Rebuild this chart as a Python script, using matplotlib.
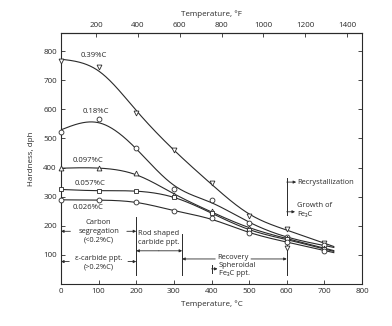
import numpy as np
import matplotlib
matplotlib.use("Agg")
import matplotlib.pyplot as plt

plt.rcParams['font.family'] = ['Open Sans', 'DejaVu Sans']

# Tempering temperature (deg C) and hardness (dph) for each carbon content
temps_c = [0, 100, 200, 300, 400, 500, 600, 700]
h_039 = [766, 745, 588, 460, 346, 235, 188, 140]
h_018 = [523, 565, 466, 326, 289, 209, 161, 133]
h_0097 = [397, 397, 380, 306, 249, 192, 157, 123]
h_0057 = [325, 319, 319, 300, 243, 184, 154, 120]
h_0026 = [289, 287, 283, 249, 226, 174, 145, 115]
stray_t = [600]
stray_h = [125]

series = [
    ("0.39%C", h_039, "v"),
    ("0.18%C", h_018, "o"),
    ("0.097%C", h_0097, "^"),
    ("0.057%C", h_0057, "s"),
    ("0.026%C", h_0026, "o"),
]
label_pos = {"0.39%C": (88, 784), "0.18%C": (94, 592), "0.097%C": (72, 424),
             "0.057%C": (77, 344), "0.026%C": (71, 262)}

f_ticks = [200, 400, 600, 800, 1000, 1200, 1400]
c_ticks = [0, 100, 200, 300, 400, 500, 600, 700, 800]
h_ticks = [100, 200, 300, 400, 500, 600, 700, 800]

INK = "#2a2a2a"
SMOOTHING = 4e4


def smooth_curve(x, y, xs, lam):
    """Cubic smoothing spline (Reinsch) through the readings, extended
    linearly a little past the last point."""
    x = np.asarray(x, float)
    y = np.asarray(y, float)
    n = len(x)
    h = np.diff(x)
    Q = np.zeros((n, n - 2))
    R = np.zeros((n - 2, n - 2))
    for i in range(1, n - 1):
        Q[i - 1, i - 1] = 1 / h[i - 1]
        Q[i, i - 1] = -1 / h[i - 1] - 1 / h[i]
        Q[i + 1, i - 1] = 1 / h[i]
        R[i - 1, i - 1] = (h[i - 1] + h[i]) / 3
        if i < n - 2:
            R[i - 1, i] = R[i, i - 1] = h[i] / 6
    K = Q @ np.linalg.solve(R, Q.T)
    g = np.linalg.solve(np.eye(n) + lam * K, y)
    gam = np.linalg.solve(R, Q.T @ g)
    M = np.concatenate([[0.0], gam, [0.0]])
    out = np.empty(len(xs))
    for j, xv in enumerate(xs):
        if xv >= x[-1]:
            k = n - 2
            slope = (g[k + 1] - g[k]) / h[k] + h[k] * (2 * M[k + 1] + M[k]) / 6
            out[j] = g[-1] + slope * (xv - x[-1])
            continue
        k = min(np.searchsorted(x, xv, side="right") - 1, n - 2)
        a = x[k + 1] - xv
        c = xv - x[k]
        out[j] = (M[k] * a**3 / (6 * h[k]) + M[k + 1] * c**3 / (6 * h[k])
                  + (g[k] / h[k] - M[k] * h[k] / 6) * a
                  + (g[k + 1] / h[k] - M[k + 1] * h[k] / 6) * c)
    return out


fig = plt.figure(figsize=(3.92, 3.26), dpi=100)
ax = fig.add_axes([61 / 392, 1 - 284 / 326, 301 / 392, 251 / 326])

xs = np.linspace(0, 725, 500)
for name, vals, mk in series:
    ax.plot(xs, smooth_curve(temps_c, vals, xs, SMOOTHING), color=INK, lw=0.8,
            zorder=3)
    ax.plot(temps_c, vals, linestyle="none", marker=mk, ms=3.5, mfc="white",
            mec=INK, mew=0.6, zorder=4, clip_on=False)
    lx, ly = label_pos[name]
    ax.text(lx, ly, name, fontsize=5.6, color=INK, ha="center", va="center")
ax.plot(stray_t, stray_h, linestyle="none", marker="v", ms=3.5, mfc="white",
        mec=INK, mew=0.6, zorder=4)

ax.set_xlim(0, 800)
ax.set_ylim(0, 862)
ax.set_xticks(c_ticks)
ax.set_yticks(h_ticks)
ax.tick_params(direction="in", length=3, width=0.6, labelsize=5.8,
               labelcolor=INK, color=INK, right=True, pad=3)
for s in ax.spines.values():
    s.set_linewidth(0.8)
    s.set_color(INK)

sec = ax.secondary_xaxis("top", functions=(lambda c: c * 9 / 5 + 32,
                                          lambda f: (f - 32) * 5 / 9))
sec.set_xticks(f_ticks)
sec.tick_params(direction="in", length=3, width=0.6, labelsize=5.8,
                labelcolor=INK, color=INK, pad=3)
sec.spines["top"].set_linewidth(0.8)
sec.spines["top"].set_color(INK)
sec.set_xlabel("Temperature, °F", fontsize=5.8, color=INK, labelpad=4)

ax.set_xlabel("Temperature, °C", fontsize=5.8, color=INK, labelpad=4)
ax.set_ylabel("Hardness, dph", fontsize=5.8, color=INK, labelpad=6)

fs = 5.4
lkw = dict(color=INK, lw=0.7)


def arrow(x0, x1, y):
    ax.annotate("", xy=(x1, y), xytext=(x0, y),
                arrowprops=dict(arrowstyle="-|>", color=INK, lw=0.6,
                                mutation_scale=4, shrinkA=0, shrinkB=0))


# Transformation ranges
ax.plot([200, 200], [32, 231], **lkw)
ax.plot([322, 322], [32, 172], **lkw)
ax.plot([600, 600], [237, 364], **lkw)
ax.plot([600, 600], [32, 134], **lkw)
ax.plot([400, 400], [38, 66], **lkw)

ax.text(100, 211, "Carbon", fontsize=fs, color=INK, ha="center", va="center")
ax.text(100, 181, "segregation", fontsize=fs, color=INK, ha="center", va="center")
ax.text(100, 151, "(<0.2%C)", fontsize=fs, color=INK, ha="center", va="center")
arrow(25, 0, 181)
arrow(175, 200, 181)

ax.text(100, 88, "ε-carbide ppt.", fontsize=fs, color=INK, ha="center", va="center")
ax.text(100, 58, "(>0.2%C)", fontsize=fs, color=INK, ha="center", va="center")
arrow(22, 0, 77)
arrow(178, 200, 77)

ax.text(260, 172, "Rod shaped", fontsize=fs, color=INK, ha="center", va="center")
ax.text(260, 142, "carbide ppt.", fontsize=fs, color=INK, ha="center", va="center")
arrow(260, 200, 114)
arrow(260, 322, 114)

ax.text(458, 91, "Recovery", fontsize=fs, color=INK, ha="center", va="center")
arrow(410, 322, 86)
arrow(505, 600, 86)

ax.text(420, 62, "Spheroidal", fontsize=fs, color=INK, ha="left", va="center")
ax.text(420, 35, "Fe₃C ppt.", fontsize=fs, color=INK, ha="left", va="center")
arrow(400, 416, 52)

ax.text(628, 350, "Recrystallization", fontsize=fs, color=INK, ha="left", va="center")
arrow(600, 625, 350)
ax.text(628, 270, "Growth of", fontsize=fs, color=INK, ha="left", va="center")
ax.text(628, 240, "Fe₃C", fontsize=fs, color=INK, ha="left", va="center")
arrow(600, 622, 248)

fig.savefig("out.png", dpi=100)
